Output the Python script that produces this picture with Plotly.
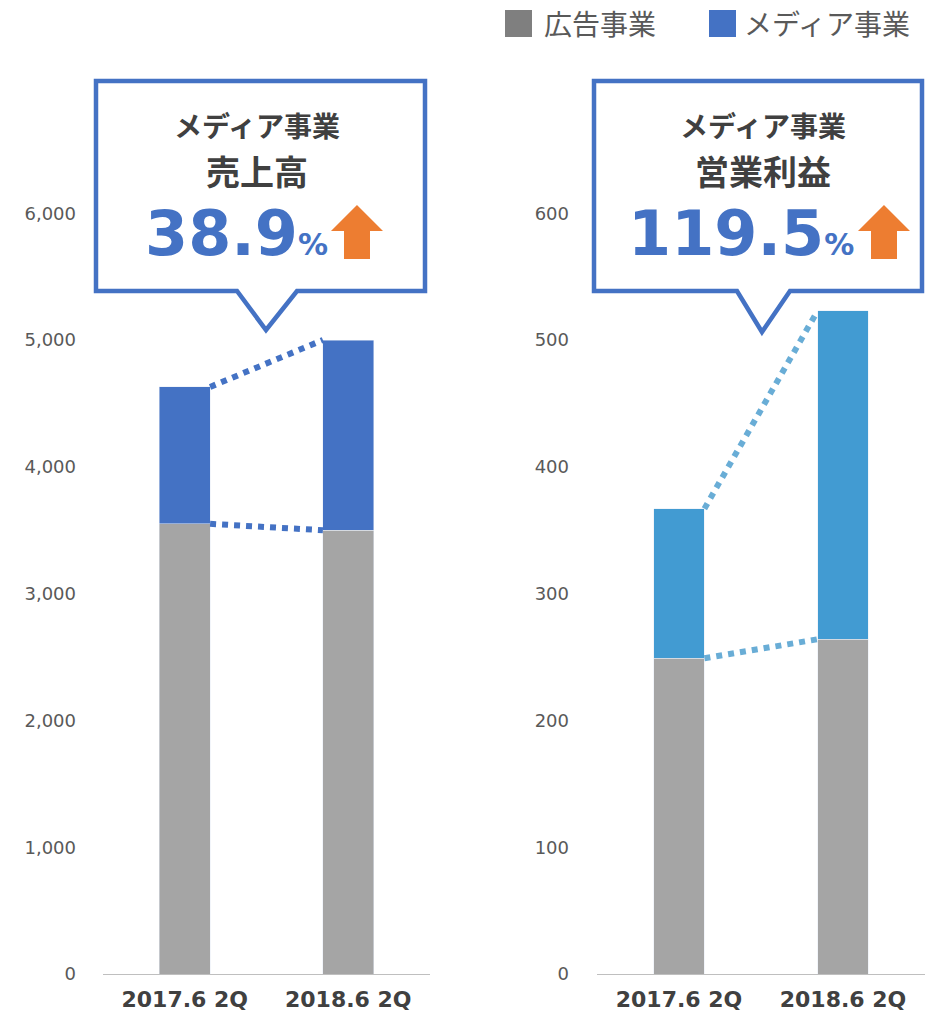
import plotly.graph_objects as go

categories = ["2017.6 2Q", "2018.6 2Q"]
sales_ad = [3550, 3500]
sales_media = [1080, 1500]
profit_ad = [249, 264]
profit_media = [118, 259]
y_ticks_sales = [0, 1000, 2000, 3000, 4000, 5000, 6000]
y_ticks_profit = [0, 100, 200, 300, 400, 500, 600]
legend_names = ["広告事業", "メディア事業"]
callout_titles = ["メディア事業", "メディア事業"]
callout_subtitles = ["売上高", "営業利益"]
callout_values = ["38.9", "119.5"]

W, H = 936, 1015
GRAY = "#A5A5A5"
BLUE = "#4472C4"
LBLUE = "#429BD2"
LBLUE_LINE = "#69ADD6"
ORANGE = "#ED7D31"
BW = 0.31

def px(x):
    return x / W

def py(y):
    return 1 - y / H

xs = [0, 1]
fig = go.Figure()

# left panel
fig.add_trace(go.Bar(x=xs, y=sales_ad, marker_color=GRAY, width=BW, name=legend_names[0],
                     xaxis="x", yaxis="y", showlegend=False))
fig.add_trace(go.Bar(x=xs, y=sales_media, marker_color=BLUE, width=BW, name=legend_names[1],
                     xaxis="x", yaxis="y", showlegend=False))
fig.add_trace(go.Scatter(x=[BW / 2, 1 - BW / 2], y=sales_ad, mode="lines",
                         line=dict(color=BLUE, width=6, dash="dot"), xaxis="x", yaxis="y",
                         showlegend=False, hoverinfo="skip"))
fig.add_trace(go.Scatter(x=[BW / 2, 1 - BW / 2],
                         y=[sales_ad[0] + sales_media[0], sales_ad[1] + sales_media[1]],
                         mode="lines", line=dict(color=BLUE, width=6, dash="dot"),
                         xaxis="x", yaxis="y", showlegend=False, hoverinfo="skip"))

# right panel
fig.add_trace(go.Bar(x=xs, y=profit_ad, marker_color=GRAY, width=BW, name=legend_names[0],
                     xaxis="x2", yaxis="y2", showlegend=False))
fig.add_trace(go.Bar(x=xs, y=profit_media, marker_color=LBLUE, width=BW, name=legend_names[1],
                     xaxis="x2", yaxis="y2", showlegend=False))
fig.add_trace(go.Scatter(x=[BW / 2, 1 - BW / 2], y=profit_ad, mode="lines",
                         line=dict(color=LBLUE_LINE, width=6, dash="dot"), xaxis="x2", yaxis="y2",
                         showlegend=False, hoverinfo="skip"))
fig.add_trace(go.Scatter(x=[BW / 2, 1 - BW / 2],
                         y=[profit_ad[0] + profit_media[0], profit_ad[1] + profit_media[1]],
                         mode="lines", line=dict(color=LBLUE_LINE, width=6, dash="dot"),
                         xaxis="x2", yaxis="y2", showlegend=False, hoverinfo="skip"))

ydom = [(H - 974) / H, 1]
tickfont = dict(family="DejaVu Sans", size=18, color="#595959")
xfont = dict(family="DejaVu Sans", size=22, color="#404040", weight="bold")

common_x = dict(range=[-0.5, 1.5], tickmode="array", tickvals=xs, ticktext=categories,
                showline=True, linecolor="#BFBFBF", linewidth=1, ticks="", showgrid=False,
                zeroline=False, tickfont=xfont, fixedrange=True, automargin=False,
                ticklabelstandoff=6)
common_y = dict(showgrid=False, zeroline=False, showline=False, ticks="", tickformat=",d",
                tickfont=tickfont, automargin=False, fixedrange=True)
fig.update_layout(
    width=W, height=H, margin=dict(l=0, r=0, t=0, b=0, autoexpand=False),
    plot_bgcolor="white", paper_bgcolor="white", barmode="stack",
    xaxis=dict(domain=[px(103), px(430)], anchor="y", **common_x),
    xaxis2=dict(domain=[px(597), px(925)], anchor="y2", **common_x),
    yaxis=dict(domain=ydom, range=[0, 974 / 126.8 * 1000], anchor="x", tickvals=y_ticks_sales,
               ticklabelstandoff=26, **common_y),
    yaxis2=dict(domain=ydom, range=[0, 974 / 126.8 * 100], anchor="x2", tickvals=y_ticks_profit,
                ticklabelstandoff=27, **common_y),
)

shapes = []
annotations = []

# legend
shapes.append(dict(type="rect", xref="paper", yref="paper", x0=px(505), x1=px(532),
                   y0=py(37), y1=py(10), fillcolor="#7F7F7F", line=dict(width=0)))
shapes.append(dict(type="rect", xref="paper", yref="paper", x0=px(709), x1=px(736),
                   y0=py(37), y1=py(10), fillcolor=BLUE, line=dict(width=0)))
legfont = dict(family="Noto Sans CJK JP", size=28, color="#595959")
annotations.append(dict(text=legend_names[0], x=px(542), y=py(23), xref="paper", yref="paper",
                        xanchor="left", yanchor="middle", showarrow=False, font=legfont))
annotations.append(dict(text=legend_names[1], x=px(742), y=py(23), xref="paper", yref="paper",
                        xanchor="left", yanchor="middle", showarrow=False, font=legfont))

# callouts
boxes = [
    dict(x0=96, x1=425, y0=81, y1=291, b0=237, b1=297, tip=(266, 330), cx=257,
         arrow_x=357, val_cx=236),
    dict(x0=594, x1=922, y0=81, y1=291, b0=737, b1=790, tip=(762, 332), cx=763,
         arrow_x=884, val_cx=741),
]
for i, b in enumerate(boxes):
    pts = [(b["x0"], b["y0"]), (b["x1"], b["y0"]), (b["x1"], b["y1"]), (b["b1"], b["y1"]),
           b["tip"], (b["b0"], b["y1"]), (b["x0"], b["y1"])]
    path = "M " + " L ".join(f"{px(x):.5f},{py(y):.5f}" for x, y in pts) + " Z"
    shapes.append(dict(type="path", xref="paper", yref="paper", path=path,
                       fillcolor="white", line=dict(color=BLUE, width=4.5), layer="above"))
    annotations.append(dict(text=callout_titles[i], x=px(b["cx"]), y=py(125), xref="paper",
                            yref="paper", xanchor="center", yanchor="middle", showarrow=False,
                            font=dict(family="Noto Sans CJK JP", size=28, color="#404040",
                                      weight="bold")))
    annotations.append(dict(text=callout_subtitles[i], x=px(b["cx"]), y=py(170), xref="paper",
                            yref="paper", xanchor="center", yanchor="middle", showarrow=False,
                            font=dict(family="Noto Sans CJK JP", size=34, color="#404040",
                                      weight="bold")))
    annotations.append(dict(text=callout_values[i] + "<span style='font-size:30px'>%</span>",
                            x=px(b["val_cx"]), y=py(233), xref="paper", yref="paper",
                            xanchor="center", yanchor="middle", showarrow=False,
                            font=dict(family="DejaVu Sans", size=62, color=BLUE,
                                      weight="bold")))
    ax = b["arrow_x"]
    arrow = [(ax, 205), (ax + 26, 231), (ax + 13, 231), (ax + 13, 259), (ax - 13, 259),
             (ax - 13, 231), (ax - 26, 231)]
    apath = "M " + " L ".join(f"{px(x):.5f},{py(y):.5f}" for x, y in arrow) + " Z"
    shapes.append(dict(type="path", xref="paper", yref="paper", path=apath,
                       fillcolor=ORANGE, line=dict(width=0), layer="above"))

fig.update_layout(shapes=shapes, annotations=annotations)
fig.write_html("out.html", config={"displayModeBar": False},
               post_script="document.body.style.margin='0';document.body.style.overflow='hidden';")
